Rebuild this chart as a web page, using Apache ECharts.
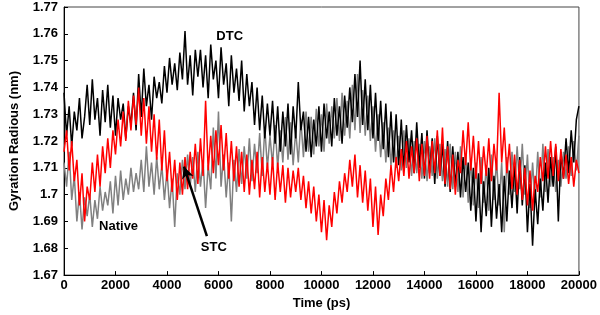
<!DOCTYPE html>
<html>
<head>
<meta charset="utf-8">
<script src="https://cdn.jsdelivr.net/npm/echarts@6/dist/echarts.min.js"></script>
<style>
  html, body { margin: 0; padding: 0; background: #fff; }
  #main { width: 600px; height: 315px; }
</style>
</head>
<body>
<div id="main"></div>
<script>
// time step between samples (ps)
const step = 100;

// DTC, black
const dtc = [
  1.738,1.722,1.733,1.718,1.731,1.724,1.736,1.721,1.729,1.741,
  1.726,1.743,1.728,1.736,1.722,1.739,1.727,1.741,1.725,1.737,
  1.722,1.736,1.728,1.734,1.721,1.733,1.726,1.738,1.724,1.745,
  1.729,1.747,1.733,1.741,1.728,1.744,1.736,1.742,1.734,1.748,
  1.738,1.751,1.741,1.749,1.739,1.753,1.743,1.761,1.741,1.752,
  1.737,1.754,1.744,1.754,1.740,1.752,1.736,1.756,1.743,1.750,
  1.736,1.755,1.741,1.749,1.733,1.752,1.738,1.747,1.735,1.750,
  1.731,1.745,1.733,1.742,1.726,1.740,1.724,1.737,1.721,1.734,
  1.722,1.735,1.719,1.733,1.716,1.731,1.718,1.734,1.715,1.733,
  1.721,1.742,1.724,1.731,1.716,1.729,1.714,1.728,1.718,1.733,
  1.716,1.734,1.721,1.731,1.718,1.736,1.722,1.733,1.719,1.737,
  1.725,1.740,1.727,1.745,1.729,1.750,1.726,1.743,1.724,1.741,
  1.721,1.738,1.720,1.735,1.717,1.734,1.714,1.731,1.712,1.730,
  1.711,1.728,1.709,1.726,1.712,1.724,1.708,1.727,1.710,1.723,
  1.706,1.724,1.708,1.721,1.704,1.722,1.707,1.719,1.703,1.720,
  1.701,1.718,1.703,1.716,1.699,1.714,1.701,1.712,1.694,1.710,
  1.690,1.708,1.686,1.705,1.692,1.710,1.688,1.707,1.691,1.704,
  1.686,1.707,1.690,1.709,1.695,1.712,1.693,1.714,1.696,1.711,
  1.686,1.704,1.681,1.702,1.689,1.706,1.694,1.712,1.697,1.714,
  1.703,1.718,1.690,1.716,1.706,1.721,1.708,1.724,1.712,1.728,
  1.733
];

// Native, gray
const native = [
  1.712,1.703,1.716,1.698,1.707,1.690,1.701,1.687,1.699,1.692,
  1.700,1.688,1.698,1.691,1.703,1.694,1.701,1.696,1.705,1.693,
  1.707,1.696,1.709,1.698,1.706,1.700,1.710,1.701,1.708,1.702,
  1.713,1.701,1.718,1.703,1.712,1.700,1.714,1.702,1.711,1.698,
  1.709,1.695,1.706,1.688,1.708,1.700,1.713,1.702,1.715,1.703,
  1.714,1.701,1.716,1.703,1.713,1.695,1.711,1.702,1.725,1.706,
  1.731,1.703,1.715,1.699,1.712,1.690,1.713,1.701,1.717,1.704,
  1.718,1.706,1.721,1.705,1.719,1.708,1.723,1.707,1.725,1.710,
  1.722,1.711,1.726,1.710,1.724,1.712,1.729,1.713,1.727,1.711,
  1.724,1.712,1.728,1.714,1.731,1.716,1.729,1.715,1.732,1.718,
  1.730,1.716,1.734,1.719,1.733,1.721,1.736,1.720,1.738,1.722,
  1.735,1.721,1.741,1.724,1.745,1.723,1.739,1.722,1.737,1.720,
  1.733,1.716,1.730,1.714,1.727,1.712,1.725,1.711,1.724,1.710,
  1.722,1.709,1.724,1.710,1.721,1.707,1.720,1.708,1.719,1.706,
  1.720,1.705,1.718,1.707,1.721,1.706,1.719,1.705,1.717,1.703,
  1.719,1.702,1.716,1.701,1.718,1.699,1.715,1.697,1.713,1.696,
  1.712,1.695,1.714,1.697,1.711,1.694,1.715,1.698,1.713,1.696,
  1.712,1.686,1.714,1.700,1.716,1.701,1.718,1.702,1.719,1.700,
  1.715,1.695,1.712,1.697,1.716,1.699,1.719,1.701,1.717,1.703,
  1.714,1.701,1.713,1.703,1.716,1.706,1.718,1.707,1.720,1.709,
  1.722
];

// STC, red
const stc = [
  1.716,1.724,1.709,1.720,1.705,1.713,1.696,1.708,1.690,1.703,
  1.698,1.712,1.701,1.715,1.703,1.718,1.708,1.721,1.710,1.724,
  1.715,1.728,1.718,1.731,1.720,1.735,1.724,1.737,1.726,1.740,
  1.722,1.736,1.719,1.733,1.716,1.730,1.713,1.728,1.709,1.724,
  1.705,1.716,1.701,1.713,1.698,1.712,1.700,1.714,1.702,1.716,
  1.706,1.719,1.704,1.721,1.707,1.735,1.709,1.722,1.708,1.724,
  1.711,1.726,1.709,1.723,1.706,1.720,1.705,1.718,1.703,1.716,
  1.701,1.715,1.700,1.713,1.702,1.716,1.699,1.714,1.701,1.712,
  1.700,1.714,1.698,1.712,1.701,1.711,1.697,1.710,1.699,1.709,
  1.701,1.710,1.698,1.707,1.695,1.705,1.693,1.703,1.690,1.700,
  1.686,1.698,1.683,1.696,1.688,1.701,1.693,1.705,1.697,1.708,
  1.701,1.713,1.703,1.715,1.699,1.711,1.697,1.709,1.694,1.706,
  1.688,1.703,1.685,1.700,1.692,1.706,1.698,1.711,1.701,1.714,
  1.705,1.717,1.707,1.720,1.706,1.718,1.708,1.721,1.705,1.719,
  1.707,1.722,1.706,1.720,1.708,1.724,1.707,1.725,1.704,1.718,
  1.702,1.715,1.700,1.713,1.708,1.724,1.711,1.727,1.709,1.722,
  1.706,1.720,1.704,1.718,1.707,1.721,1.705,1.719,1.709,1.738,
  1.712,1.725,1.708,1.719,1.702,1.715,1.700,1.713,1.698,1.710,
  1.696,1.709,1.694,1.707,1.701,1.714,1.705,1.718,1.706,1.720,
  1.707,1.719,1.705,1.717,1.706,1.715,1.704,1.714,1.703,1.713,
  1.708
];

// annotations in data coordinates [time, value]
const labels = [
  { text: 'DTC', at: [6435, 1.7589] },
  { text: 'Native', at: [2120, 1.6881] },
  { text: 'STC', at: [5819, 1.6803] }
];
const arrowFrom = [5550, 1.6845];
const arrowTo = [4660, 1.7105];

function toPairs(arr) {
  return arr.map((v, i) => [i * step, v]);
}

const font = 'Liberation Sans, Arial, Helvetica, sans-serif';

function loadChart() {
  var chartDom = document.getElementById('main');
  var myChart = echarts.init(chartDom);

  var line = (name, data, color) => ({
    name: name,
    type: 'line',
    data: toPairs(data),
    showSymbol: false,
    symbol: 'none',
    animation: false,
    lineStyle: { color: color, width: 1.5 }
  });

  var stcSeries = line('STC', stc, '#ff0000');
  stcSeries.markLine = {
    silent: true,
    animation: false,
    symbol: ['none', 'arrow'],
    symbolSize: [9, 12],
    label: { show: false },
    lineStyle: { color: '#000', width: 2.5, type: 'solid' },
    data: [[{ coord: arrowFrom }, { coord: arrowTo }]]
  };

  var option = {
    animation: false,
    grid: {
      left: 61, right: 20, top: 7, bottom: 38,
      show: true, borderColor: '#444', borderWidth: 1, backgroundColor: 'transparent'
    },
    xAxis: {
      type: 'value',
      min: 0, max: 20000, interval: 2000,
      name: 'Time (ps)',
      nameLocation: 'middle',
      nameGap: 20,
      nameTextStyle: { fontFamily: font, fontWeight: 'bold', fontSize: 13, color: '#000' },
      axisLine: { lineStyle: { color: '#000', width: 1 } },
      axisTick: { inside: true, length: 4, lineStyle: { color: '#000' } },
      axisLabel: {
        fontFamily: font, fontWeight: 'bold', fontSize: 13, color: '#000', margin: 4,
        formatter: v => String(v)
      },
      splitLine: { show: false }
    },
    yAxis: {
      type: 'value',
      min: 1.67, max: 1.77, interval: 0.01,
      name: 'Gyration Radious (nm)',
      nameLocation: 'middle',
      nameGap: 43,
      nameTextStyle: { fontFamily: font, fontWeight: 'bold', fontSize: 13, color: '#000' },
      axisLine: { show: true, lineStyle: { color: '#000', width: 1 } },
      axisTick: { show: true, inside: true, length: 4, lineStyle: { color: '#000' } },
      axisLabel: {
        fontFamily: font, fontWeight: 'bold', fontSize: 13, color: '#000', margin: 6,
        formatter: v => String(+v.toFixed(2))
      },
      splitLine: { show: false }
    },
    series: [
      line('Native', native, '#808080'),
      line('DTC', dtc, '#000000'),
      stcSeries
    ]
  };

  myChart.setOption(option);

  // text labels placed through the chart's own coordinate system
  var texts = labels.map(l => {
    var p = myChart.convertToPixel({ gridIndex: 0 }, l.at);
    return {
      type: 'text',
      x: p[0], y: p[1],
      style: {
        text: l.text,
        fill: '#000',
        font: 'bold 13px ' + font,
        align: 'center',
        verticalAlign: 'middle'
      },
      z: 100
    };
  });
  myChart.setOption({ graphic: texts });
}

document.addEventListener('DOMContentLoaded', () => {
  loadChart();
});
</script>
</body>
</html>
